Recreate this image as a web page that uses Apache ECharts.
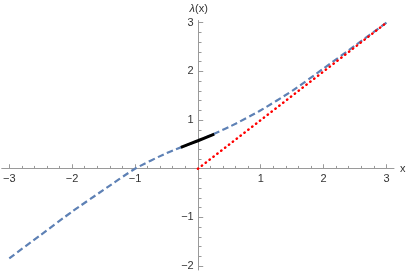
<!DOCTYPE html>
<html>
<head>
<meta charset="utf-8">
<script src="https://cdn.jsdelivr.net/npm/echarts@6/dist/echarts.min.js"></script>
<style>html,body{margin:0;padding:0;background:#fff}#c{width:409px;height:273px}</style>
</head>
<body>
<div id="c"></div>
<script>
// ---- data ----
const curveX = [-3, -2.5, -2, -1.5, -1, -0.5, 0, 0.5, 1, 1.5, 2, 2.5, 3];
const curveY = [-1.84, -1.36, -0.88, -0.435, 0, 0.32, 0.575, 0.86, 1.2, 1.6, 2.06, 2.53, 3.0];
const segX = [-0.27, 0, 0.26];
const segY = [0.44, 0.575, 0.71];
const diagX = [0, 3];
const diagY = [0, 3];
const xTickLabels = [-3, -2, -1, 1, 2, 3];
const yTickLabels = [-2, -1, 1, 2, 3];

function minorTicks(lo, hi, step, majors) {
  const out = [];
  for (let i = Math.round(lo / step); i <= Math.round(hi / step); i++) {
    const v = +(i * step).toFixed(4);
    if (v !== 0 && majors.indexOf(v) < 0) out.push(v);
  }
  return out;
}
const xMinor = minorTicks(-3, 3, 0.2, xTickLabels);
const yMinor = minorTicks(-2, 3, 0.2, yTickLabels);

const W = 409, H = 273;
const G = {left: 0, right: 15, top: 20.5, bottom: 3};
const XMIN = -3.12, XMAX = 3.12, YMIN = -2.08, YMAX = 3.045;
const gw = W - G.left - G.right, gh = H - G.top - G.bottom;
// axes cross at the origin: shift them from the grid edge to zero
const xOffset = -((0 - YMIN) / (YMAX - YMIN)) * gh;
const yOffset = -((0 - XMIN) / (XMAX - XMIN)) * gw;

const font = '"Liberation Sans", Arial, sans-serif';
const axisColor = '#9a9a9a';
const labelColor = '#333';
const fmt = v => String(v).replace('-', '\u2212');

const chart = echarts.init(document.getElementById('c'), null, {renderer: 'canvas'});
const xBase = {type: 'value', min: XMIN, max: XMAX, gridIndex: 0, position: 'bottom', offset: xOffset, splitLine: {show: false}};
const yBase = {type: 'value', min: YMIN, max: YMAX, gridIndex: 0, position: 'left', offset: yOffset, splitLine: {show: false}};
chart.setOption({
  animation: false,
  grid: Object.assign({containLabel: false}, G),
  xAxis: [
    Object.assign({}, xBase, {
      name: 'x', nameLocation: 'end', nameGap: 6,
      nameTextStyle: {fontFamily: font, fontSize: 11, color: labelColor, verticalAlign: 'middle'},
      axisLine: {show: true, onZero: false, lineStyle: {color: axisColor, width: 1}},
      axisTick: {show: true, inside: true, length: 4.5, customValues: xTickLabels, lineStyle: {color: axisColor}},
      axisLabel: {show: true, customValues: xTickLabels, formatter: fmt, margin: 5,
        fontFamily: font, fontSize: 11, color: labelColor}
    }),
    Object.assign({}, xBase, {
      axisLine: {show: false, onZero: false},
      axisTick: {show: true, inside: true, length: 2.8, customValues: xMinor, lineStyle: {color: axisColor}},
      axisLabel: {show: false}
    })
  ],
  yAxis: [
    Object.assign({}, yBase, {
      name: '{i|λ}(x)', nameLocation: 'end', nameGap: 6,
      nameTextStyle: {fontFamily: font, fontSize: 11, color: labelColor, align: 'center',
        rich: {i: {fontFamily: font, fontSize: 11, fontStyle: 'italic', color: labelColor}}},
      axisLine: {show: true, onZero: false, lineStyle: {color: axisColor, width: 1}},
      axisTick: {show: true, inside: true, length: 4.5, customValues: yTickLabels, lineStyle: {color: axisColor}},
      axisLabel: {show: true, customValues: yTickLabels, formatter: fmt, margin: 5,
        fontFamily: font, fontSize: 11, color: labelColor}
    }),
    Object.assign({}, yBase, {
      axisLine: {show: false, onZero: false},
      axisTick: {show: true, inside: true, length: 2.8, customValues: yMinor, lineStyle: {color: axisColor}},
      axisLabel: {show: false}
    })
  ],
  series: [
    {
      type: 'line', xAxisIndex: 0, yAxisIndex: 0, symbol: 'none', smooth: 0.2,
      data: curveX.map((x, i) => [x, curveY[i]]),
      lineStyle: {color: '#5E81B5', width: 2.2, type: [6.5, 3.5]}, z: 2
    },
    {
      type: 'line', xAxisIndex: 0, yAxisIndex: 0, symbol: 'none', smooth: 0.2,
      data: segX.map((x, i) => [x, segY[i]]),
      lineStyle: {color: '#000', width: 3}, z: 3
    },
    {
      type: 'line', xAxisIndex: 0, yAxisIndex: 0, symbol: 'none',
      data: diagX.map((x, i) => [x, diagY[i]]),
      lineStyle: {color: '#ff0000', width: 2.4, type: [0.5, 4.4], cap: 'round'}, z: 4
    }
  ]
});
</script>
</body>
</html>
